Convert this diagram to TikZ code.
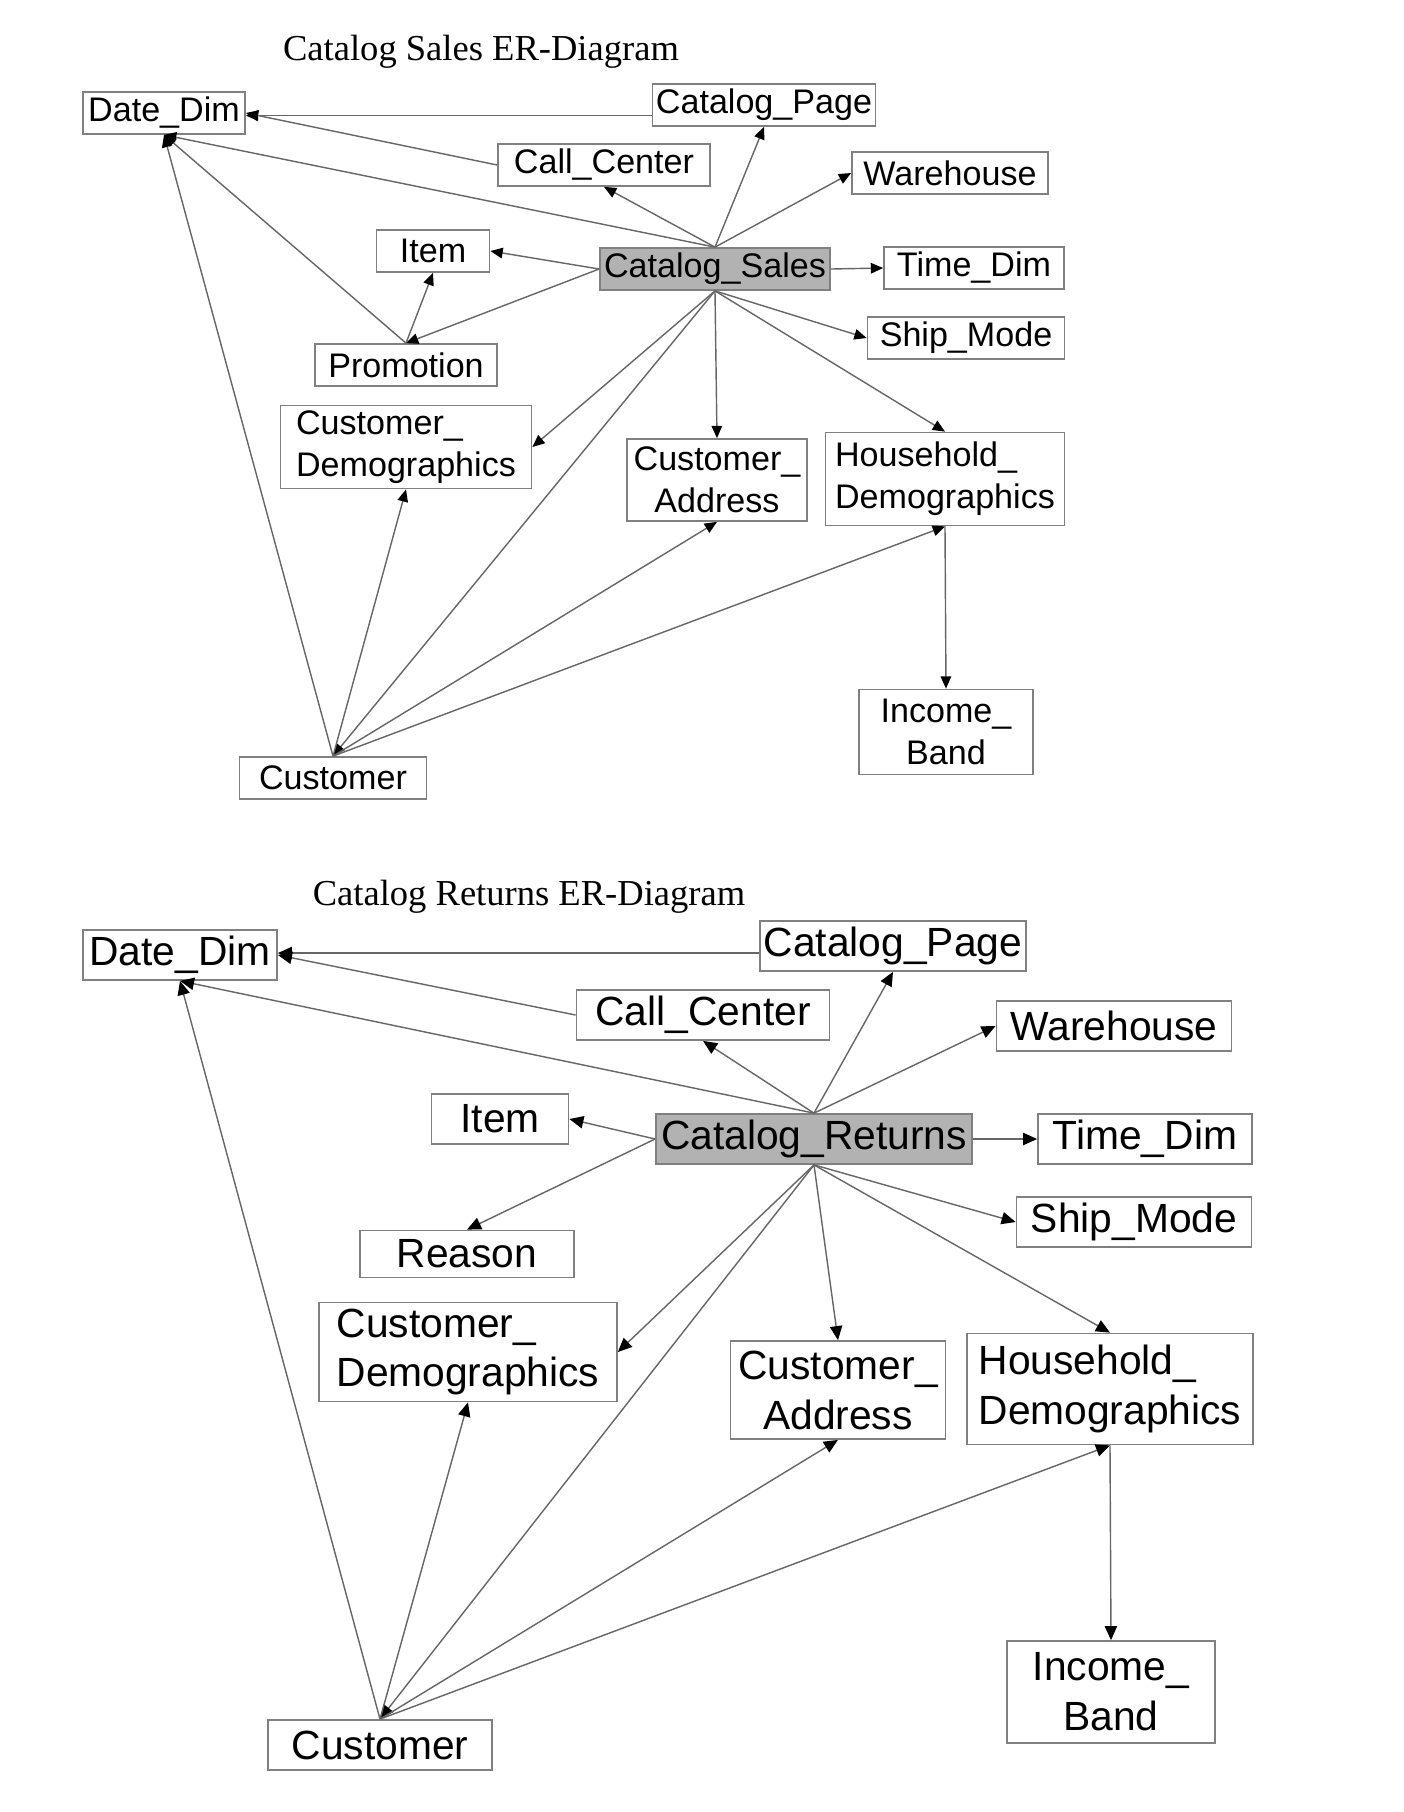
\documentclass[tikz,border=0pt]{standalone}
\usepackage{fontspec}
\setmainfont{Liberation Sans}
\newfontfamily\ttlfont{Liberation Serif}
\usetikzlibrary{arrows.meta}

\begin{document}
\begin{tikzpicture}[
  ebox/.style={rectangle, draw=black!50, fill=white, inner sep=1pt, line width=0.5pt},
  sbox/.style={ebox, font=\fontsize{9.7}{11.9}\selectfont, minimum height=0.42cm},
  lbox/.style={ebox, font=\fontsize{11.6}{14.2}\selectfont, minimum height=0.50cm},
  hub/.style={fill=black!30},
  ttl/.style={font=\ttlfont\fontsize{10.4}{12}\selectfont},
  arr/.style={-{Triangle[length=3.5pt, width=3pt, color=black]}, draw=black!60, line width=0.4pt},
  arrl/.style={arr, -{Triangle[length=4pt, width=3.5pt, color=black]}}
]
\useasboundingbox (0,0) rectangle (14.04,-18.12);

% Catalog Sales
\node[ttl] (sTitle) at (4.81,-0.52) {Catalog Sales ER-Diagram};

\node[sbox, minimum width=1.62cm] (sDate)  at (1.64,-1.13) {Date\_Dim};
\node[sbox, minimum width=2.22cm] (sPage)  at (7.64,-1.05) {Catalog\_Page};
\node[sbox, minimum width=2.12cm] (sCall)  at (6.04,-1.65) {Call\_Center};
\node[sbox, minimum width=1.96cm] (sWare)  at (9.50,-1.73) {Warehouse};
\node[sbox, minimum width=1.13cm] (sItem)  at (4.33,-2.51) {Item};
\node[sbox, hub, minimum width=2.30cm] (sSales) at (7.15,-2.69) {Catalog\_Sales};
\node[sbox, minimum width=1.80cm] (sTime)  at (9.74,-2.68) {Time\_Dim};
\node[sbox, minimum width=1.97cm] (sShip)  at (9.66,-3.38) {Ship\_Mode};
\node[sbox, minimum width=1.82cm] (sPromo) at (4.06,-3.65) {Promotion};
\node[sbox, minimum width=2.51cm, minimum height=0.83cm, align=left]   (sCDemo)  at (4.06,-4.47) {Customer\_\\Demographics};
\node[sbox, minimum width=1.80cm, minimum height=0.82cm, align=center] (sAddr)   at (7.17,-4.80) {Customer\_\\Address};
\node[sbox, minimum width=2.39cm, minimum height=0.93cm, align=left]   (sHDemo)  at (9.45,-4.79) {Household\_\\Demographics};
\node[sbox, minimum width=1.74cm, minimum height=0.85cm, align=center] (sIncome) at (9.46,-7.32) {Income\_\\Band};
\node[sbox, minimum width=1.87cm] (sCust)  at (3.33,-7.78) {Customer};

\draw[arr] ([yshift=-3pt]sPage.west) -- ([yshift=-3pt]sPage.west -| sDate.east);
\draw[arr] (sCall.west)   -- (sDate.east);
\draw[arr] (sSales.north) -- (sDate.south);
\draw[arr] (sSales.north) -- (sCall.south);
\draw[arr] (sSales.north) -- (sPage.south);
\draw[arr] (sSales.north) -- (sWare.west);
\draw[arr] (sSales.west)  -- (sItem.east);
\draw[arr] (sSales.west)  -- (sPromo.north);
\draw[arr] (sSales.east)  -- (sTime.west);
\draw[arr] (sSales.south) -- (sShip.west);
\draw[arr] (sSales.south) -- (sHDemo.north);
\draw[arr] (sSales.south) -- (sAddr.north);
\draw[arr] (sSales.south) -- (sCDemo.east);
\draw[arr] (sSales.south) -- (sCust.north);
\draw[arr] (sPromo.north) -- (sItem.south);
\draw[arr] (sPromo.north) -- (sDate.south);
\draw[arr] (sCust.north)  -- (sDate.south);
\draw[arr] (sCust.north)  -- (sCDemo.south);
\draw[arr] (sCust.north)  -- (sAddr.south);
\draw[arr] (sCust.north)  -- (sHDemo.south);
\draw[arr] (sHDemo.south) -- (sIncome.north);

% Catalog Returns
\node[ttl] (rTitle) at (5.29,-8.97) {Catalog Returns ER-Diagram};

\node[lbox, minimum width=1.94cm] (rDate)  at (1.80,-9.55) {Date\_Dim};
\node[lbox, minimum width=2.66cm] (rPage)  at (8.93,-9.46) {Catalog\_Page};
\node[lbox, minimum width=2.53cm] (rCall)  at (7.03,-10.15) {Call\_Center};
\node[lbox, minimum width=2.35cm] (rWare)  at (11.14,-10.26) {Warehouse};
\node[lbox, minimum width=1.37cm] (rItem)  at (5.00,-11.19) {Item};
\node[lbox, hub, minimum width=3.16cm] (rRet) at (8.14,-11.39) {Catalog\_Returns};
\node[lbox, minimum width=2.14cm] (rTime)  at (11.45,-11.39) {Time\_Dim};
\node[lbox, minimum width=2.35cm] (rShip)  at (11.34,-12.22) {Ship\_Mode};
\node[lbox, minimum width=2.14cm, minimum height=0.47cm] (rReason) at (4.67,-12.54) {Reason};
\node[lbox, minimum width=2.98cm, minimum height=0.99cm, align=left]   (rCDemo)  at (4.68,-13.52) {Customer\_\\Demographics};
\node[lbox, minimum width=2.15cm, minimum height=0.98cm, align=center] (rAddr)   at (8.38,-13.90) {Customer\_\\Address};
\node[lbox, minimum width=2.86cm, minimum height=1.11cm, align=left]   (rHDemo)  at (11.10,-13.89) {Household\_\\Demographics};
\node[lbox, minimum width=2.08cm, minimum height=1.02cm, align=center] (rIncome) at (11.11,-16.92) {Income\_\\Band};
\node[lbox, minimum width=2.24cm] (rCust)  at (3.80,-17.45) {Customer};

\draw[arrl] ([yshift=-2pt]rPage.west) -- ([yshift=-2pt]rPage.west -| rDate.east);
\draw[arrl] (rCall.west)  -- (rDate.east);
\draw[arrl] (rRet.north)  -- (rDate.south);
\draw[arrl] (rRet.north)  -- (rCall.south);
\draw[arrl] (rRet.north)  -- (rPage.south);
\draw[arrl] (rRet.north)  -- (rWare.west);
\draw[arrl] (rRet.west)   -- (rItem.east);
\draw[arrl] (rRet.west)   -- (rReason.north);
\draw[arrl] (rRet.east)   -- (rTime.west);
\draw[arrl] (rRet.south)  -- (rShip.west);
\draw[arrl] (rRet.south)  -- (rHDemo.north);
\draw[arrl] (rRet.south)  -- (rAddr.north);
\draw[arrl] (rRet.south)  -- (rCDemo.east);
\draw[arrl] (rRet.south)  -- (rCust.north);
\draw[arrl] (rCust.north) -- (rDate.south);
\draw[arrl] (rCust.north) -- (rCDemo.south);
\draw[arrl] (rCust.north) -- (rAddr.south);
\draw[arrl] (rCust.north) -- (rHDemo.south);
\draw[arrl] (rHDemo.south) -- (rIncome.north);
\end{tikzpicture}
\end{document}
